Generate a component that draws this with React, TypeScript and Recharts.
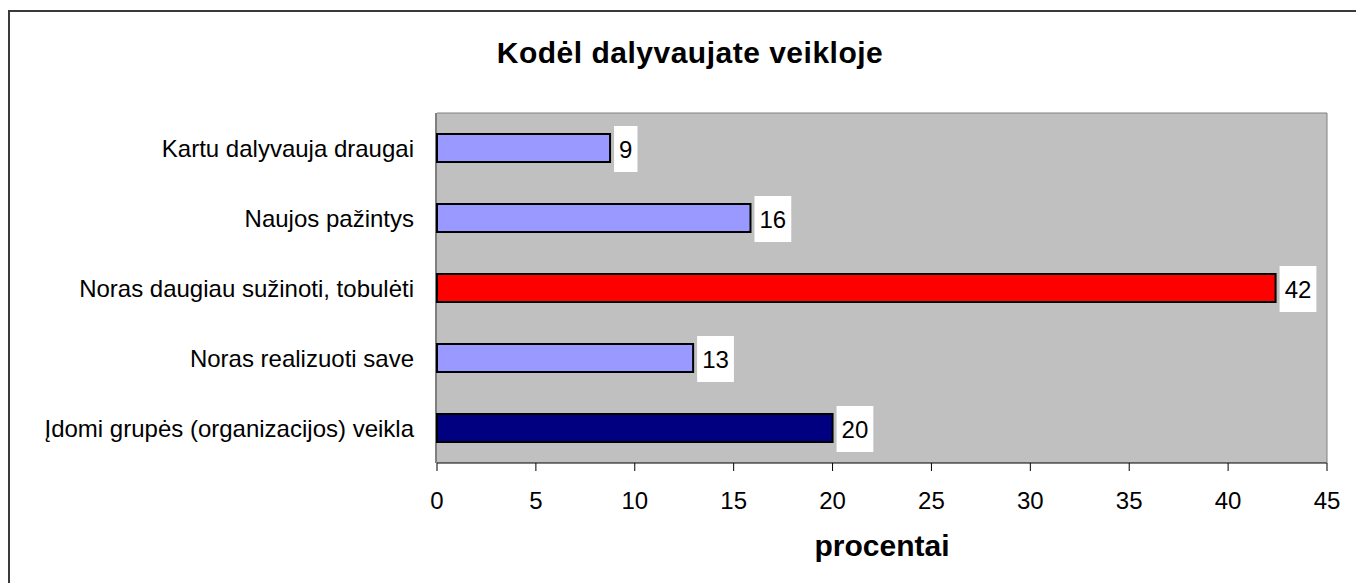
import { BarChart, Bar, XAxis, YAxis, CartesianGrid, Cell, LabelList } from "recharts";

const categories = [
  "Kartu dalyvauja draugai",
  "Naujos pažintys",
  "Noras daugiau sužinoti, tobulėti",
  "Noras realizuoti save",
  "Įdomi grupės (organizacijos) veikla",
];
const percents = [8.75, 15.85, 42.4, 12.95, 20.0];
const barColors = ["#9999ff", "#9999ff", "#ff0000", "#9999ff", "#000080"];
const xTicks = [0, 5, 10, 15, 20, 25, 30, 35, 40, 45];
const boundaryTicks = [0, 1, 2, 3, 4, 5];

const data = categories.map((name, i) => ({ name, value: percents[i] }));

const FONT = "'Liberation Sans', Arial, sans-serif";

function ValueLabel(props: any) {
  const { x, y, width, height, value } = props;
  const text = String(Math.round(value));
  const boxW = 13.4 * text.length + 10;
  const bx = x + width + 4;
  const cy = y + height / 2 + 1;
  return (
    <g>
      <rect x={bx} y={cy - 23} width={boxW} height={46} fill="#ffffff" />
      <text x={bx + boxW / 2} y={cy + 8.5} textAnchor="middle" fontSize={24} fontFamily={FONT} fill="#000">
        {text}
      </text>
    </g>
  );
}

export default function App() {
  return (
    <div style={{ position: "absolute", left: 8, top: 10, width: 1348, height: 573, overflow: "hidden" }}>
      <div style={{ width: 1400, height: 620, border: "2px solid #3a3a3a", position: "relative", background: "#fff" }}>
        <BarChart
          width={1336}
          height={563}
          data={data}
          layout="vertical"
          margin={{ top: 100, right: 18, bottom: 0, left: 0 }}
          barSize={28}
        >
          <CartesianGrid fill="#c0c0c0" horizontal={false} vertical={false} stroke="none" />
          <XAxis
            type="number"
            domain={[0, 45]}
            ticks={xTicks}
            interval={0}
            stroke="#000"
            tickSize={8}
            tickMargin={21}
            height={112}
            tick={{ fill: "#000", fontSize: 24, fontFamily: FONT }}
            label={{ value: "procentai", position: "insideBottom", offset: 19, fill: "#000", fontSize: 30, fontWeight: "bold", fontFamily: FONT }}
          />
          <XAxis xAxisId="top" orientation="top" type="number" domain={[0, 45]} tick={false} tickLine={false} height={1} stroke="#808080" />
          <YAxis yAxisId="right" orientation="right" type="number" domain={[0, 5]} tick={false} tickLine={false} width={1} stroke="#808080" />
          <YAxis
            yAxisId="cat"
            type="category"
            dataKey="name"
            width={426}
            axisLine={{ stroke: "#000" }}
            tickLine={false}
            tickSize={0}
            tickMargin={22}
            tick={{ fill: "#000", fontSize: 24, fontFamily: FONT }}
          />
          <YAxis
            yAxisId="bounds"
            type="number"
            domain={[0, 5]}
            ticks={boundaryTicks}
            interval={0}
            allowDataOverflow
            width={1}
            axisLine={false}
            tick={false}
            tickSize={8}
            tickLine={{ stroke: "#000" }}
          />
          <Bar yAxisId="cat" dataKey="value" stroke="#000" strokeWidth={2} isAnimationActive={false}>
            {data.map((_, i) => (
              <Cell key={`cell-${i}`} fill={barColors[i]} />
            ))}
            <LabelList dataKey="value" content={ValueLabel} />
          </Bar>
        </BarChart>
        <div
          style={{
            position: "absolute",
            left: 680 - 300,
            top: 26,
            width: 600,
            textAlign: "center",
            fontFamily: FONT,
            fontWeight: "bold",
            fontSize: 30,
            lineHeight: "30px",
            letterSpacing: 0.5,
            color: "#000",
          }}
        >
          Kodėl dalyvaujate veikloje
        </div>
      </div>
    </div>
  );
}
